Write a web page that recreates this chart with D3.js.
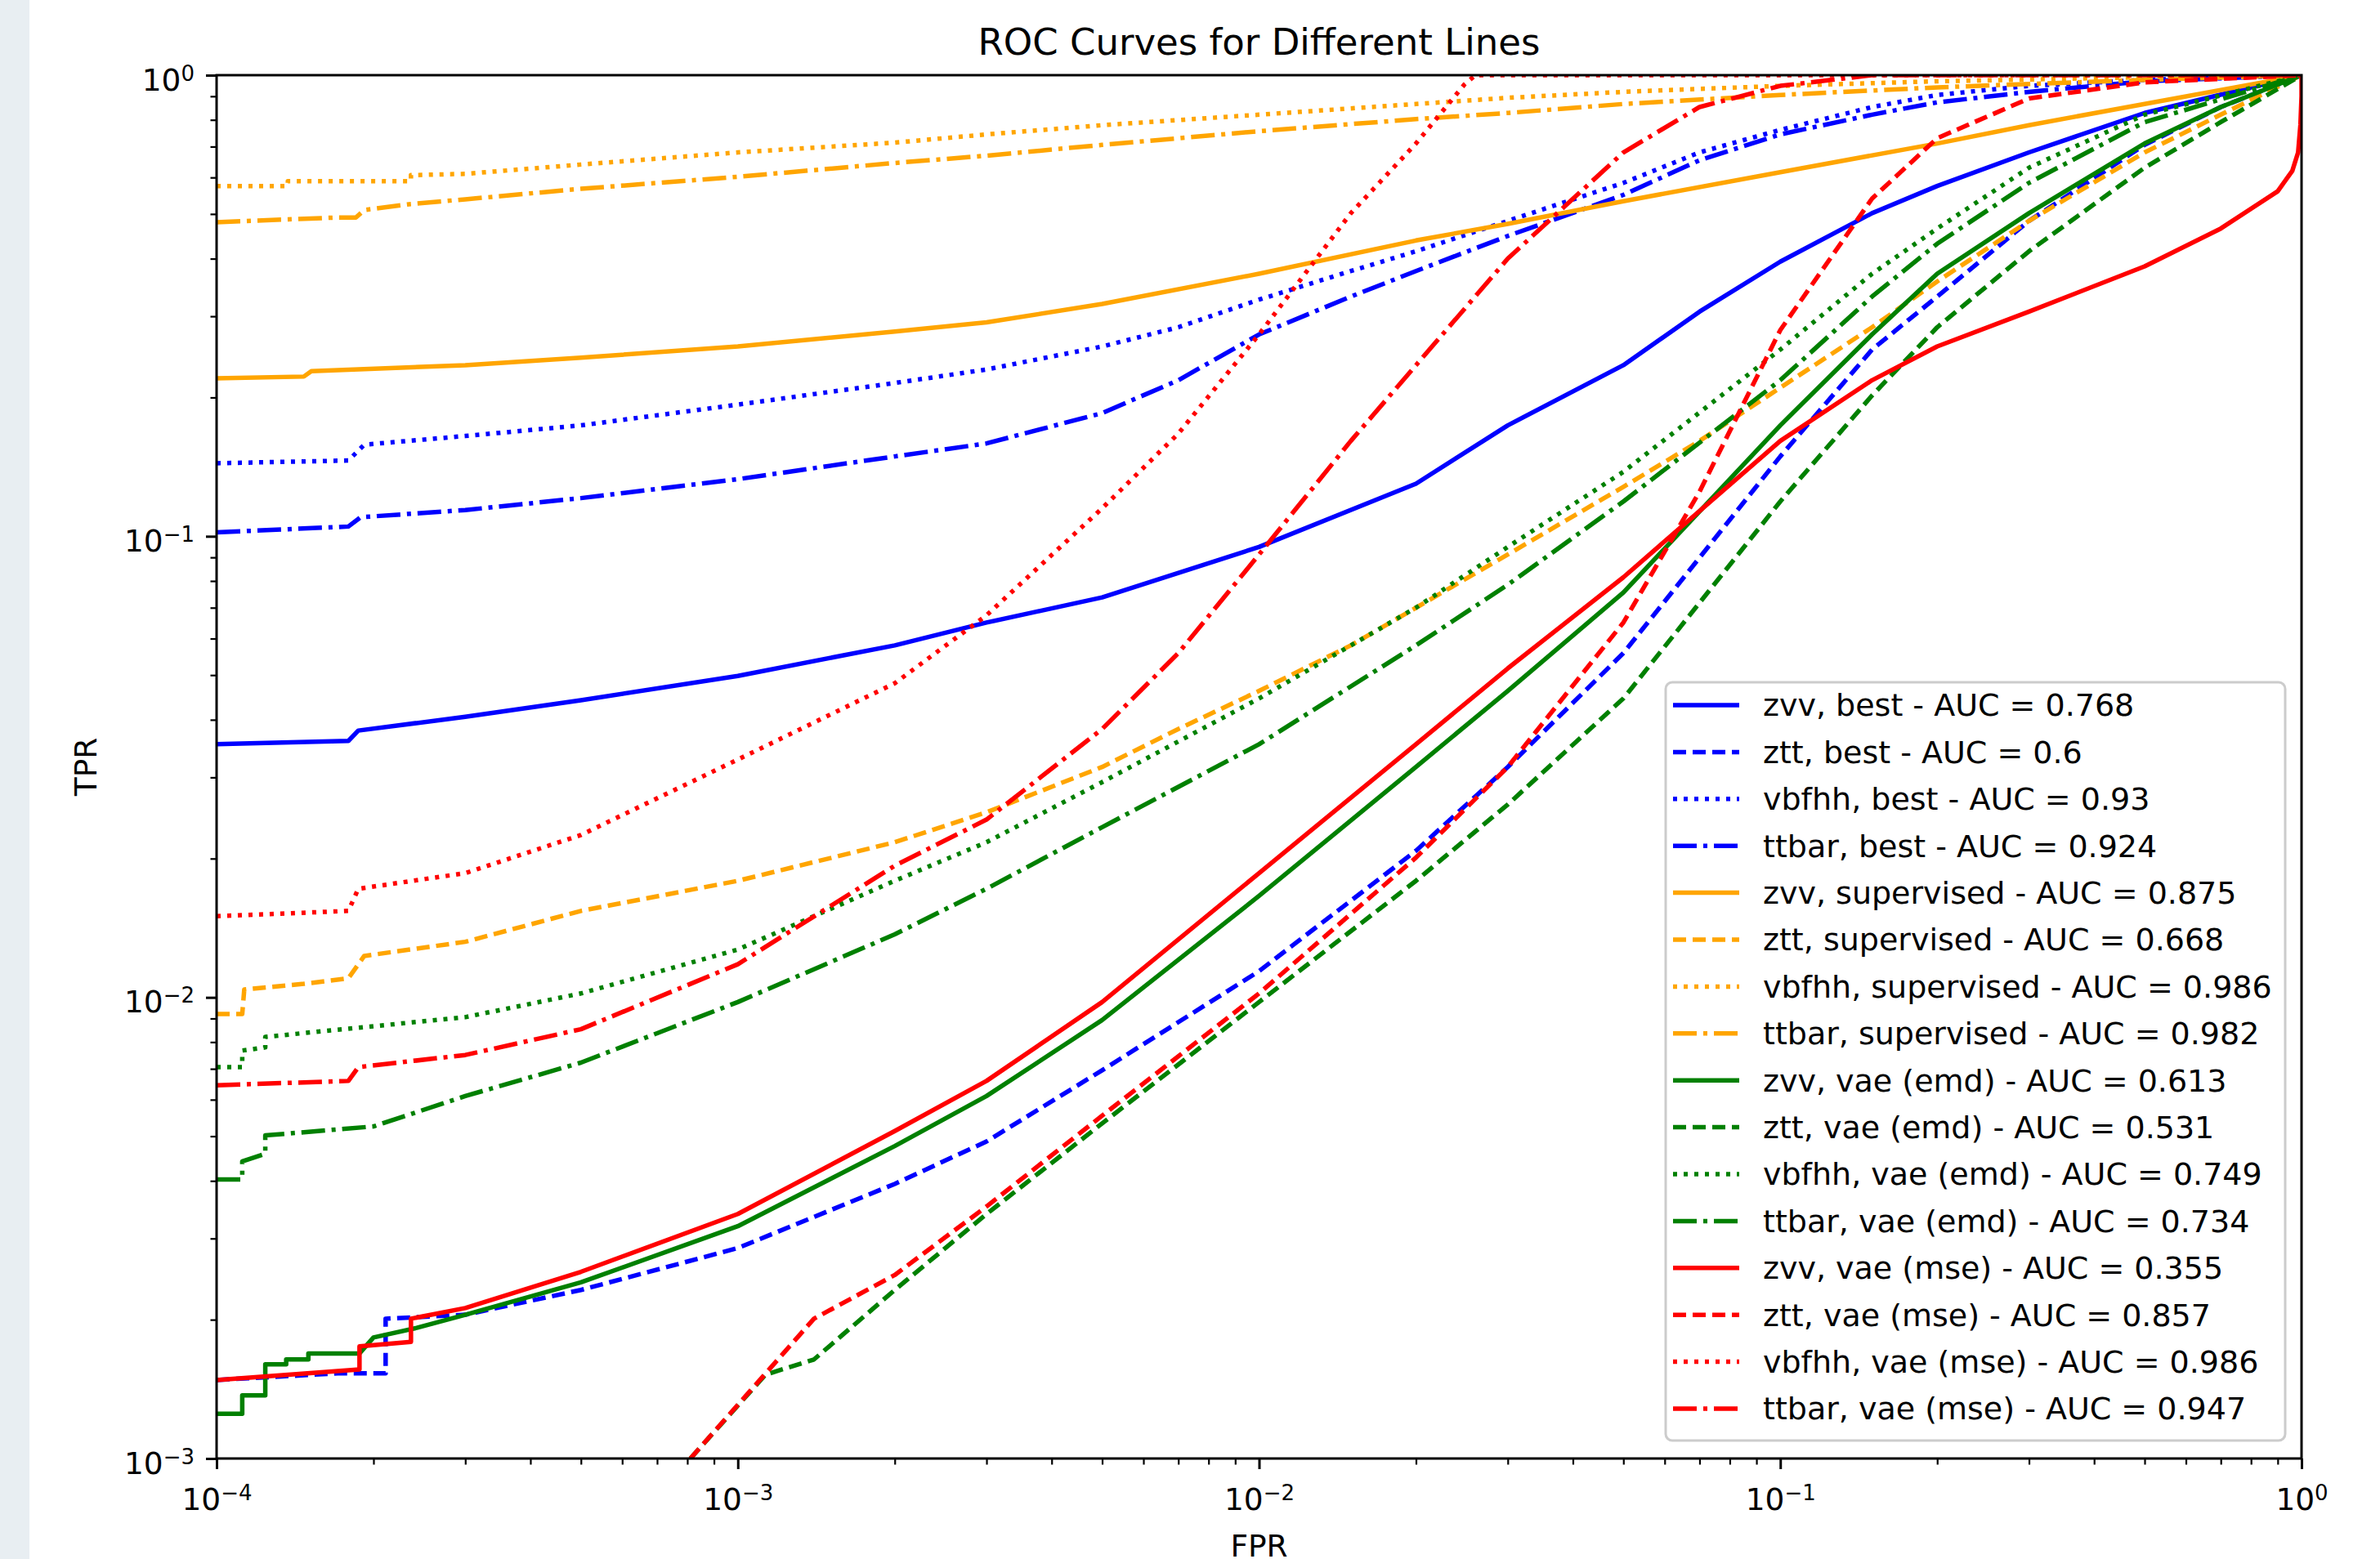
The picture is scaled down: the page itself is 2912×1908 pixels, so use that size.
<!DOCTYPE html>
<html>
<head>
<meta charset="utf-8">
<script src="https://cdn.jsdelivr.net/npm/d3@7"></script>
<style>
	body { margin: 0; background: #ffffff; }
	text { font-family: "DejaVu Sans", sans-serif; fill: #000000; }
</style>
</head>
<body>
<svg id="chart" width="2912" height="1908"></svg>
<script>

/////////////////////// Data //////////////////////////
//Each curve is a list of [FPR, TPR] points

var zvvBest = [[1e-4,0.0354],[1.79e-4,0.0360],[1.87e-4,0.0379],[3e-4,0.0406],[5e-4,0.0441],[1e-3,0.0498],[2e-3,0.0580],[3e-3,0.0650],[5e-3,0.0737],[1e-2,0.0948],[2e-2,0.130],[3e-2,0.174],[5e-2,0.235],[7e-2,0.307],[0.1,0.394],[0.15,0.502],[0.2,0.575],[0.3,0.680],[0.5,0.828],[1,1]];
var zttBest = [[1e-4,0.00148],[1.71e-4,0.00153],[2.11e-4,0.00153],[2.11e-4,0.00201],[3e-4,0.00205],[5e-4,0.00232],[1e-3,0.00286],[2e-3,0.00394],[3e-3,0.00487],[5e-3,0.00695],[1e-2,0.0114],[2e-2,0.0208],[3e-2,0.0316],[5e-2,0.0558],[0.1,0.149],[0.15,0.254],[0.2,0.331],[0.3,0.483],[0.5,0.706],[0.7,0.853],[1,1]];
var vbfhhBest = [[1e-4,0.144],[1.79e-4,0.146],[1.92e-4,0.158],[3e-4,0.165],[5e-4,0.174],[1e-3,0.193],[2e-3,0.215],[3e-3,0.230],[5e-3,0.258],[7e-3,0.284],[1e-2,0.326],[1.5e-2,0.376],[2e-2,0.415],[3e-2,0.483],[5e-2,0.584],[7e-2,0.680],[0.1,0.761],[0.15,0.853],[0.2,0.906],[0.3,0.948],[0.5,0.977],[1,1]];
var ttbarBest = [[1e-4,0.102],[1.79e-4,0.105],[1.89e-4,0.110],[3e-4,0.114],[5e-4,0.121],[1e-3,0.133],[2e-3,0.149],[3e-3,0.159],[5e-3,0.185],[7e-3,0.218],[1e-2,0.274],[1.5e-2,0.331],[2e-2,0.376],[3e-2,0.448],[5e-2,0.550],[7e-2,0.654],[0.1,0.744],[0.15,0.821],[0.2,0.873],[0.3,0.920],[0.5,0.970],[1,1]];

var zvvSup = [[1e-4,0.220],[1.47e-4,0.222],[1.52e-4,0.228],[3e-4,0.235],[5e-4,0.244],[1e-3,0.258],[2e-3,0.278],[3e-3,0.291],[5e-3,0.319],[1e-2,0.371],[2e-2,0.438],[3e-2,0.476],[5e-2,0.533],[0.1,0.616],[0.2,0.711],[0.3,0.779],[0.5,0.866],[1,1]];
var zttSup = [[1e-4,0.00920],[1.12e-4,0.00920],[1.13e-4,0.0104],[1.47e-4,0.0107],[1.79e-4,0.0110],[1.92e-4,0.0123],[3e-4,0.0132],[5e-4,0.0154],[1e-3,0.0179],[2e-3,0.0217],[3e-3,0.0252],[5e-3,0.0316],[7e-3,0.0382],[1e-2,0.0462],[1.5e-2,0.0580],[2e-2,0.0700],[3e-2,0.0913],[5e-2,0.128],[7e-2,0.161],[0.1,0.210],[0.15,0.284],[0.2,0.357],[0.3,0.483],[0.5,0.680],[0.7,0.821],[1,1]];
var vbfhhSup = [[1e-4,0.575],[1.37e-4,0.575],[1.37e-4,0.589],[2.36e-4,0.589],[2.36e-4,0.607],[3e-4,0.611],[5e-4,0.640],[1e-3,0.680],[2e-3,0.714],[3e-3,0.744],[5e-3,0.779],[1e-2,0.821],[2e-2,0.866],[3e-2,0.893],[5e-2,0.920],[0.1,0.948],[0.2,0.970],[0.5,0.990],[1,1]];
var ttbarSup = [[1e-4,0.480],[1.68e-4,0.491],[1.85e-4,0.491],[1.92e-4,0.510],[2.34e-4,0.525],[3e-4,0.538],[5e-4,0.567],[1e-3,0.602],[2e-3,0.645],[3e-3,0.669],[5e-3,0.706],[1e-2,0.756],[2e-2,0.803],[3e-2,0.828],[5e-2,0.866],[0.1,0.906],[0.2,0.941],[0.5,0.977],[1,1]];

var zvvEmd = [[1e-4,0.00125],[1.12e-4,0.00125],[1.12e-4,0.00137],[1.24e-4,0.00137],[1.24e-4,0.00160],[1.36e-4,0.00160],[1.36e-4,0.00164],[1.5e-4,0.00164],[1.5e-4,0.00169],[1.88e-4,0.00169],[2e-4,0.00183],[2.42e-4,0.00192],[3e-4,0.00205],[5e-4,0.00241],[1e-3,0.00319],[2e-3,0.00476],[3e-3,0.00611],[5e-3,0.00893],[1e-2,0.0166],[2e-2,0.0316],[3e-2,0.0462],[5e-2,0.0755],[0.1,0.174],[0.15,0.274],[0.2,0.371],[0.3,0.502],[0.5,0.711],[0.7,0.853],[1,1]];
var zttEmd = [[8.11e-4,0.001],[1.13e-3,0.00152],[1.4e-3,0.00164],[2e-3,0.00232],[3e-3,0.00339],[5e-3,0.00533],[1e-2,0.00977],[2e-2,0.0179],[3e-2,0.0262],[5e-2,0.0445],[0.1,0.119],[0.15,0.202],[0.2,0.284],[0.3,0.415],[0.5,0.630],[0.7,0.791],[1,1]];
var vbfhhEmd = [[1e-4,0.00706],[1.12e-4,0.00706],[1.12e-4,0.00767],[1.24e-4,0.00779],[1.24e-4,0.00821],[3e-4,0.00906],[5e-4,0.0102],[1e-3,0.0127],[2e-3,0.0179],[3e-3,0.0217],[5e-3,0.0293],[1e-2,0.0445],[2e-2,0.0700],[3e-2,0.0948],[5e-2,0.138],[0.1,0.254],[0.15,0.371],[0.2,0.465],[0.3,0.630],[0.5,0.821],[1,1]];
var ttbarEmd = [[1e-4,0.00403],[1.12e-4,0.00403],[1.12e-4,0.00441],[1.24e-4,0.00458],[1.24e-4,0.00502],[2e-4,0.00525],[3e-4,0.00611],[5e-4,0.00722],[1e-3,0.00977],[2e-3,0.0137],[3e-3,0.0172],[5e-3,0.0234],[1e-2,0.0354],[2e-2,0.0580],[3e-2,0.0785],[5e-2,0.119],[0.1,0.218],[0.15,0.331],[0.2,0.431],[0.3,0.584],[0.5,0.791],[1,1]];

var zvvMse = [[1e-4,0.00148],[1.88e-4,0.00156],[1.88e-4,0.00175],[2.36e-4,0.00179],[2.36e-4,0.00201],[3e-4,0.00212],[5e-4,0.00254],[1e-3,0.00339],[2e-3,0.00513],[3e-3,0.00659],[5e-3,0.00977],[1e-2,0.0186],[2e-2,0.0354],[3e-2,0.0517],[5e-2,0.0815],[0.1,0.161],[0.15,0.218],[0.2,0.258],[0.3,0.307],[0.5,0.385],[0.7,0.465],[0.9,0.560],[0.96,0.620],[0.985,0.680],[0.995,0.780],[1,0.900],[1,1]];
var zttMse = [[8.11e-4,0.001],[1.4e-3,0.00201],[2e-3,0.00250],[3e-3,0.00352],[5e-3,0.00554],[1e-2,0.0102],[2e-2,0.0201],[3e-2,0.0316],[5e-2,0.0650],[7e-2,0.125],[0.1,0.280],[0.15,0.540],[0.2,0.730],[0.3,0.890],[0.5,0.965],[1,1]];
var vbfhhMse = [[1e-4,0.0150],[1.79e-4,0.0154],[1.87e-4,0.0172],[3e-4,0.0186],[5e-4,0.0225],[1e-3,0.0328],[2e-3,0.0480],[3e-3,0.0674],[5e-3,0.115],[7e-3,0.167],[1e-2,0.274],[1.5e-2,0.502],[2e-2,0.711],[2.48e-2,0.956],[2.6e-2,1],[1,1]];
var ttbarMse = [[1e-4,0.00645],[1.79e-4,0.00659],[1.87e-4,0.00706],[3e-4,0.00750],[5e-4,0.00853],[1e-3,0.0118],[2e-3,0.0193],[3e-3,0.0243],[5e-3,0.0382],[7e-3,0.0558],[1e-2,0.0913],[1.5e-2,0.161],[2e-2,0.235],[3e-2,0.400],[5e-2,0.680],[7e-2,0.853],[0.1,0.948],[0.15,1],[1,1]];

var curves = [zvvBest, zttBest, vbfhhBest, ttbarBest, zvvSup, zttSup, vbfhhSup, ttbarSup,
	zvvEmd, zttEmd, vbfhhEmd, ttbarEmd, zvvMse, zttMse, vbfhhMse, ttbarMse];
var samples = ["zvv", "ztt", "vbfhh", "ttbar"];
var models = ["best", "supervised", "vae (emd)", "vae (mse)"];
var aucValues = [0.768, 0.6, 0.93, 0.924, 0.875, 0.668, 0.986, 0.982,
	0.613, 0.531, 0.749, 0.734, 0.355, 0.857, 0.986, 0.947];

var xMajorTicks = [1e-4, 1e-3, 1e-2, 1e-1, 1];
var yMajorTicks = [1e-3, 1e-2, 1e-1, 1];

/////////////////////// Styles //////////////////////////

var modelColors = ["#0000ff", "#ffa500", "#008000", "#ff0000"];
var sampleDashes = [null, "16,8", "5,8", "29,8,5,8"];

/////////////////////// Setup //////////////////////////

var svg = d3.select("#chart");
var plotLeft = 265, plotRight = 2816, plotTop = 92, plotBottom = 1785;

var x = d3.scaleLog().domain([1e-4, 1]).range([plotLeft, plotRight]);
var y = d3.scaleLog().domain([1e-3, 1]).range([plotBottom, plotTop]);

//Grey strip on the left edge of the screenshot
svg.append("rect")
	.attr("x", 0).attr("y", 0)
	.attr("width", 36).attr("height", 1908)
	.style("fill", "#e8eef2");

//Clip the curves to the axes box
svg.append("defs").append("clipPath")
	.attr("id", "plot-clip")
	.append("rect")
	.attr("x", plotLeft).attr("y", plotTop)
	.attr("width", plotRight - plotLeft).attr("height", plotBottom - plotTop);

/////////////////////// Curves //////////////////////////

var line = d3.line()
	.x(function(d) { return x(d[0]); })
	.y(function(d) { return y(d[1]); });

var curveWrapper = svg.append("g").attr("clip-path", "url(#plot-clip)");

curveWrapper.selectAll(".roc-line")
	.data(curves)
	.enter().append("path")
	.attr("class", "roc-line")
	.attr("d", line)
	.style("fill", "none")
	.style("stroke", function(d,i) { return modelColors[Math.floor(i/4)]; })
	.style("stroke-width", 5.5)
	.style("stroke-linejoin", "round")
	.style("stroke-dasharray", function(d,i) { return sampleDashes[i%4]; });

/////////////////////// Axes //////////////////////////

function minorTicks(lo, hi) {
	var t = [];
	for (var e = lo; e < hi; e++) {
		for (var m = 2; m <= 9; m++) t.push(m * Math.pow(10, e));
	}
	return t;
}

function addPowerLabel(sel) {
	sel.each(function(d) {
		var txt = d3.select(this).text(null);
		var exp = Math.round(Math.log10(d));
		txt.append("tspan").text("10");
		txt.append("tspan")
			.attr("dy", -12)
			.style("font-size", "26px")
			.text(exp < 0 ? "\u2212" + (-exp) : exp);
	});
}

//x axis
var xMinorG = svg.append("g").attr("transform", "translate(0," + plotBottom + ")");
xMinorG.call(d3.axisBottom(x).tickValues(minorTicks(-4, 0)).tickSize(7.5).tickFormat(""));
xMinorG.selectAll("line").style("stroke-width", 2.2);
var xMajorG = svg.append("g").attr("transform", "translate(0," + plotBottom + ")");
xMajorG.call(d3.axisBottom(x).tickValues(xMajorTicks).tickSize(13));
xMajorG.selectAll("line").style("stroke-width", 3);
xMajorG.selectAll("text")
	.attr("dy", null)
	.attr("y", 63)
	.attr("fill", "#000")
	.style("font-size", "37.5px")
	.style("font-family", "DejaVu Sans")
	.call(addPowerLabel);

//y axis
var yMinorG = svg.append("g").attr("transform", "translate(" + plotLeft + ",0)");
yMinorG.call(d3.axisLeft(y).tickValues(minorTicks(-3, 0)).tickSize(7.5).tickFormat(""));
yMinorG.selectAll("line").style("stroke-width", 2.2);
var yMajorG = svg.append("g").attr("transform", "translate(" + plotLeft + ",0)");
yMajorG.call(d3.axisLeft(y).tickValues(yMajorTicks).tickSize(13));
yMajorG.selectAll("line").style("stroke-width", 3);
yMajorG.selectAll("text")
	.attr("dy", null)
	.attr("x", -27)
	.attr("y", 18)
	.attr("fill", "#000")
	.style("font-size", "37.5px")
	.style("font-family", "DejaVu Sans")
	.call(addPowerLabel);
svg.selectAll(".domain").remove();

//Axes frame
svg.append("rect")
	.attr("x", plotLeft).attr("y", plotTop)
	.attr("width", plotRight - plotLeft).attr("height", plotBottom - plotTop)
	.style("fill", "none")
	.style("stroke", "#000")
	.style("stroke-width", 3);

//Titles
svg.append("text")
	.attr("x", (plotLeft + plotRight)/2)
	.attr("y", 67)
	.style("text-anchor", "middle")
	.style("font-size", "45px")
	.text("ROC Curves for Different Lines");

svg.append("text")
	.attr("x", (plotLeft + plotRight)/2)
	.attr("y", 1905)
	.style("text-anchor", "middle")
	.style("font-size", "37.5px")
	.text("FPR");

svg.append("text")
	.attr("transform", "translate(118," + ((plotTop + plotBottom)/2) + ") rotate(-90)")
	.style("text-anchor", "middle")
	.style("font-size", "37.5px")
	.text("TPR");

/////////////////////// Legend //////////////////////////

var legendWrapper = svg.append("g").attr("transform", "translate(2038,835)");
legendWrapper.append("rect")
	.attr("width", 758)
	.attr("height", 928)
	.attr("rx", 8)
	.style("fill", "#ffffff")
	.style("fill-opacity", 0.8)
	.style("stroke", "#cccccc")
	.style("stroke-width", 3);

var rowHeight = 57.4;
var legendRow = legendWrapper.selectAll(".legend-row")
	.data(curves)
	.enter().append("g")
	.attr("class", "legend-row")
	.attr("transform", function(d,i) { return "translate(0," + (28 + i*rowHeight) + ")"; });

legendRow.append("line")
	.attr("x1", 9).attr("x2", 90)
	.style("stroke", function(d,i) { return modelColors[Math.floor(i/4)]; })
	.style("stroke-width", 5.5)
	.style("stroke-dasharray", function(d,i) { return sampleDashes[i%4]; });

legendRow.append("text")
	.attr("x", 119)
	.attr("dy", "0.35em")
	.style("font-size", "38px")
	.text(function(d,i) {
		return samples[i%4] + ", " + models[Math.floor(i/4)] + " - AUC = " + aucValues[i];
	});

</script>
</body>
</html>
